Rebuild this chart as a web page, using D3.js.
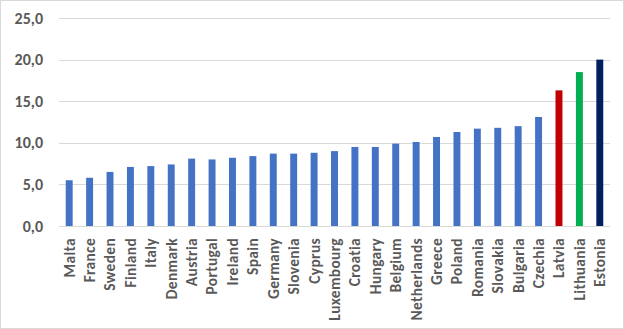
<!DOCTYPE html>
<html>
<head>
<meta charset="utf-8">
<script src="https://cdn.jsdelivr.net/npm/d3@7"></script>
<style>
  html, body { margin: 0; padding: 0; background: #fff; }
  svg { display: block; }
</style>
</head>
<body>
<svg id="chart" width="624" height="329"></svg>
<script>
const countries = ["Malta","France","Sweden","Finland","Italy","Denmark","Austria","Portugal","Ireland","Spain","Germany","Slovenia","Cyprus","Luxembourg","Croatia","Hungary","Belgium","Netherlands","Greece","Poland","Romania","Slovakia","Bulgaria","Czechia","Latvia","Lithuania","Estonia"];
const values = [5.5,5.8,6.5,7.1,7.2,7.4,8.1,8.0,8.2,8.4,8.7,8.7,8.8,9.0,9.5,9.5,9.9,10.1,10.7,11.3,11.7,11.8,12.0,13.1,16.3,18.5,20.0];
const yTicks = [0,5,10,15,20,25];
const highlight = { "Latvia": "#C00000", "Lithuania": "#00B050", "Estonia": "#002060" };
const baseColor = "#4472C4";

const W = 624, H = 329;
const margin = { left: 59, right: 14, top: 18, bottom: 103 };
const svg = d3.select("#chart");

svg.append("rect")
  .attr("x", 0.5).attr("y", 0.5)
  .attr("width", W - 1).attr("height", H - 1)
  .attr("fill", "#fff").attr("stroke", "#D9D9D9");

const x = d3.scaleBand()
  .domain(countries)
  .range([margin.left, W - margin.right])
  .paddingInner(0.66).paddingOuter(0.33);

const y = d3.scaleLinear()
  .domain([0, 25])
  .range([H - margin.bottom, margin.top]);

// gridlines
svg.append("g")
  .selectAll("line")
  .data(yTicks)
  .join("line")
  .attr("x1", margin.left).attr("x2", W - margin.right)
  .attr("y1", d => Math.round(y(d)) + 0.5).attr("y2", d => Math.round(y(d)) + 0.5)
  .attr("stroke", "#D9D9D9").attr("stroke-width", 1);

// y-axis labels
const fmt = d => d3.format(".1f")(d).replace(".", ",");
const yAxis = svg.append("g")
  .attr("transform", `translate(${margin.left - 16},0)`)
  .call(d3.axisLeft(y).tickValues(yTicks).tickFormat(fmt).tickSize(0).tickPadding(0));
yAxis.select(".domain").remove();
yAxis.selectAll("text")
  .attr("fill", "#595959")
  .style("font-family", "Carlito, Calibri, 'Open Sans', Arial, sans-serif")
  .style("font-size", "16px")
  .style("font-weight", "bold");

// bars
svg.append("g")
  .selectAll("rect")
  .data(countries)
  .join("rect")
  .attr("x", d => x(d))
  .attr("width", x.bandwidth())
  .attr("y", (d, i) => y(values[i]))
  .attr("height", (d, i) => y(0) - y(values[i]))
  .attr("fill", d => highlight[d] || baseColor);

// category labels
const xAxis = svg.append("g")
  .attr("transform", `translate(0,${y(0)})`)
  .call(d3.axisBottom(x).tickSize(0).tickPadding(0));
xAxis.select(".domain").remove();
xAxis.selectAll("text")
  .attr("transform", "rotate(-90)")
  .attr("x", -12)
  .attr("y", 0)
  .attr("dy", "0.35em")
  .attr("text-anchor", "end")
  .attr("fill", "#595959")
  .style("font-family", "Carlito, Calibri, 'Open Sans', Arial, sans-serif")
  .style("font-size", "15.5px")
  .style("letter-spacing", "0.3px")
  .style("font-weight", "bold");
</script>
</body>
</html>
